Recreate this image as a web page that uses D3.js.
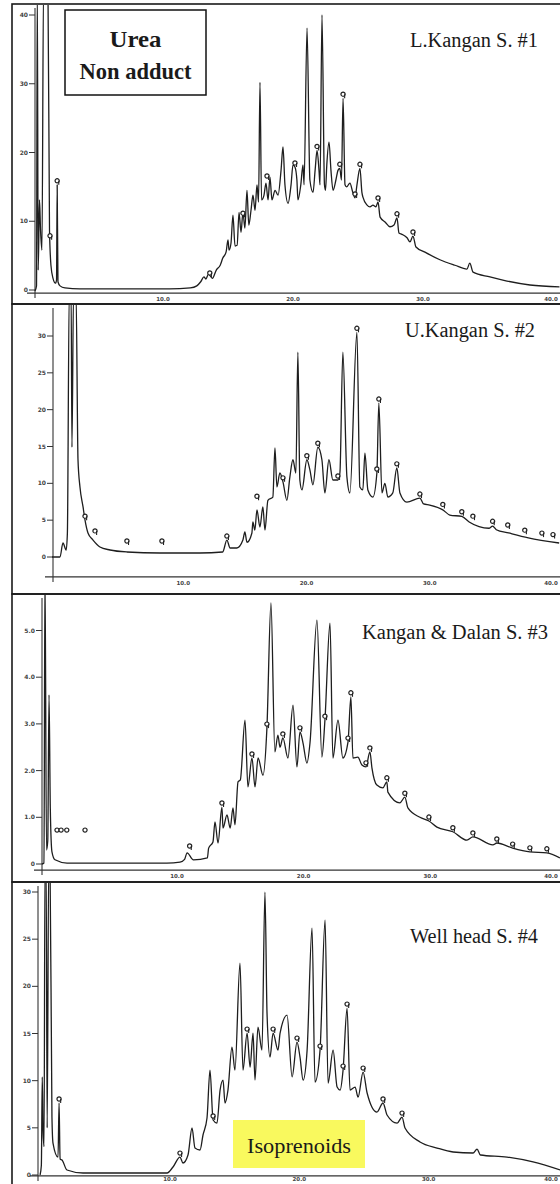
<!DOCTYPE html>
<html>
<head>
<meta charset="utf-8">
<script src="https://cdn.jsdelivr.net/npm/d3@7"></script>
<style>
  body { margin: 0; background: #fff; }
  svg { display: block; }
</style>
</head>
<body>
<svg id="svg"></svg>
<script>
var width = 560;
var height = 1184;

// retention time (min), signal
const trace1 = [[0.15,-0.15],[0.27,0.6],[0.33,44],[0.4,2.9],[0.5,13.1],[0.58,8.7],[0.69,5.8],[0.81,44],[1.0,44],[1.15,44],[1.27,8.7],[1.38,3.6],[1.54,1.7],[1.73,1.0],[1.81,1.45],[1.86,15.3],[1.92,1.2],[2.08,0.6],[2.46,0.3],[3.6,0.15],[6.7,0.15],[10.5,0.15],[12.1,0.3],[12.6,0.6],[12.9,1.2],[13.15,1.9],[13.3,1.6],[13.5,2.3],[13.8,1.7],[14.1,2.9],[14.4,3.6],[14.6,4.65],[14.85,5.5],[15.0,7.3],[15.08,5.8],[15.23,6.8],[15.38,10.9],[15.54,6.4],[15.7,6.5],[15.85,11.3],[16.0,8.4],[16.15,11.3],[16.3,9.0],[16.46,14.5],[16.6,9.45],[16.77,11.6],[16.92,13.8],[17.08,11.6],[17.23,15.3],[17.35,12.8],[17.46,30.2],[17.58,13.1],[17.77,13.8],[17.92,15.55],[18.08,13.1],[18.23,16.4],[18.38,13.1],[18.62,14.5],[18.85,13.8],[19.08,17.4],[19.23,20.8],[19.38,15.3],[19.62,12.6],[19.85,15.3],[20.0,18.2],[20.15,17.9],[20.3,16.0],[20.38,13.1],[20.6,15.3],[20.77,18.2],[20.85,15.3],[21.08,38.1],[21.3,16.0],[21.54,14.2],[21.7,17.4],[21.85,20.3],[22.0,17.4],[22.08,15.3],[22.23,40.0],[22.42,15.3],[22.5,14.5],[22.6,18.2],[22.77,21.5],[22.92,17.4],[23.08,14.5],[23.3,16.0],[23.46,17.4],[23.6,17.7],[23.73,16.0],[23.85,27.9],[24.0,15.3],[24.12,15.0],[24.38,15.55],[24.6,14.2],[24.77,13.4],[24.92,15.3],[25.15,17.7],[25.3,14.2],[25.38,13.5],[25.7,12.35],[25.92,12.1],[26.15,12.35],[26.38,12.1],[26.54,12.8],[26.7,10.6],[27.08,9.9],[27.46,9.2],[27.77,9.45],[28.0,10.5],[28.15,8.3],[28.38,8.1],[28.77,7.6],[29.0,7.0],[29.23,7.85],[29.46,6.25],[30.15,5.5],[31.3,4.4],[32.46,3.6],[33.38,3.05],[33.6,3.9],[33.85,2.6],[35.15,1.9],[36.46,1.3],[38.23,0.73],[40.5,0.44]];
const trace2 = [[-0.65,0],[0,0],[0.24,1.9],[0.5,0.95],[0.6,3.3],[0.75,36],[0.9,36],[0.97,14.9],[1.1,36],[1.3,36],[1.46,13.2],[1.62,9.5],[1.87,6.8],[2.03,5.0],[2.27,3.26],[2.68,2.3],[3.24,1.36],[4.06,0.95],[5.43,0.68],[8.1,0.54],[11.35,0.54],[13.2,0.68],[13.54,2.3],[13.8,1.22],[14.35,1.22],[14.84,2.3],[15.0,3.4],[15.17,2.0],[15.57,3.26],[15.65,4.75],[15.81,3.66],[15.98,6.4],[16.22,4.07],[16.46,6.8],[16.63,3.66],[16.87,7.7],[17.27,8.14],[17.44,14.8],[17.6,9.5],[17.84,11.4],[18.09,10.2],[18.41,7.7],[18.65,10.85],[18.9,13.2],[19.14,11.4],[19.3,27.8],[19.46,10.45],[19.63,9.1],[20.03,13.2],[20.28,11.8],[20.52,9.8],[20.92,14.9],[21.25,13.2],[21.49,8.7],[21.82,13.2],[22.14,10.45],[22.55,10.45],[22.71,11.4],[22.95,27.8],[23.28,10.85],[23.52,8.7],[24.09,30.5],[24.33,9.5],[24.57,9.1],[24.74,14.1],[24.98,9.1],[25.39,8.14],[25.71,11.4],[25.87,20.9],[26.12,8.7],[26.36,10.0],[26.6,8.14],[27.0,8.7],[27.33,12.1],[27.58,8.7],[28.14,7.46],[29.2,8.0],[29.5,7.2],[30.0,7.05],[31.06,6.4],[31.63,5.7],[32.6,5.5],[33.2,4.75],[34.8,3.9],[35.1,4.2],[35.4,3.7],[36.4,3.26],[38.0,2.6],[40.5,1.9]];
const trace3 = [[-0.66,0],[-0.5,0.02],[-0.42,6.3],[-0.3,0.3],[-0.2,0.5],[-0.1,3.62],[0.0,1.2],[0.13,0.26],[0.37,0.09],[1.32,0.02],[9.2,0.02],[10.24,0.04],[10.6,0.1],[10.8,0.24],[11.3,0.09],[12.4,0.13],[12.5,0.34],[12.84,0.47],[13.0,0.9],[13.24,0.45],[13.55,1.22],[13.63,0.77],[13.95,1.05],[14.2,0.77],[14.42,1.2],[14.58,0.84],[14.82,1.76],[15.0,1.8],[15.37,3.08],[15.6,1.65],[15.92,2.27],[16.16,1.65],[16.4,2.27],[16.79,1.9],[17.1,2.91],[17.42,5.59],[17.73,2.4],[17.97,2.76],[18.13,2.5],[18.36,2.7],[18.76,2.27],[19.16,3.4],[19.47,2.08],[19.71,2.83],[19.95,2.59],[20.26,2.16],[20.5,2.59],[21.05,5.22],[21.44,2.29],[21.68,3.08],[22.08,5.16],[22.31,2.27],[22.71,3.08],[23.1,2.27],[23.5,2.61],[23.73,3.58],[23.89,2.27],[24.28,2.29],[24.6,2.12],[24.92,2.08],[25.23,2.4],[25.39,2.06],[25.78,1.69],[26.26,1.63],[26.57,1.76],[26.65,1.54],[27.6,1.31],[27.99,1.43],[28.23,1.2],[29.18,1.0],[29.89,0.92],[30.52,0.79],[31.78,0.69],[32.89,0.51],[33.36,0.58],[34.94,0.41],[35.25,0.45],[36.5,0.34],[37.86,0.26],[39.2,0.24],[40.23,0.13]];
const trace4 = [[-0.05,0],[0.05,1.0],[0.12,10.4],[0.18,4.77],[0.26,3.0],[0.33,33],[0.42,33],[0.5,5.0],[0.62,33],[0.72,33],[0.87,6.14],[0.95,3.39],[1.34,1.9],[1.42,7.63],[1.5,1.7],[1.65,1.59],[2.03,0.53],[3.27,0.21],[9.77,0.21],[10.23,0.85],[10.77,1.9],[11.0,1.27],[11.39,2.12],[11.7,4.98],[11.93,2.86],[12.32,2.65],[12.55,4.24],[12.86,6.04],[13.09,11.12],[13.33,5.83],[13.63,5.5],[13.87,9.0],[14.1,10.06],[14.25,7.63],[14.48,9.0],[14.79,13.56],[15.02,11.12],[15.41,22.46],[15.64,11.12],[15.96,15.04],[16.19,11.44],[16.42,15.04],[16.57,10.06],[16.8,15.68],[17.11,13.24],[17.34,29.98],[17.5,17.16],[17.73,12.5],[17.97,15.04],[18.35,13.24],[18.51,15.04],[19.05,16.95],[19.44,10.4],[19.82,14.09],[20.05,12.5],[20.29,10.06],[20.6,13.24],[20.98,26.17],[21.21,9.85],[21.6,13.24],[21.99,27.01],[22.22,9.75],[22.61,13.24],[22.92,9.32],[23.15,9.0],[23.38,11.12],[23.69,17.69],[23.92,9.0],[24.31,9.32],[24.54,8.26],[24.93,10.91],[25.24,8.69],[26.0,6.67],[26.47,7.63],[26.78,6.36],[27.56,5.5],[27.94,6.14],[28.17,4.98],[29.33,3.5],[30.65,2.86],[31.89,2.44],[33.43,2.33],[33.74,2.75],[34.0,2.12],[36.06,1.9],[38.07,1.38],[40.16,0.53]];

// peak labels (small "9" marks) sitting on top of peaks
const markers1 = [[1.31,7.3],[1.86,15.3],[13.6,1.9],[16.15,10.6],[18.0,16.0],[20.15,17.9],[21.85,20.3],[23.6,17.7],[23.85,27.9],[24.77,13.4],[25.15,17.7],[26.54,12.8],[28.0,10.5],[29.23,7.85]];
const markers2 = [[2.03,5.0],[2.84,3.0],[5.43,1.63],[8.27,1.63],[13.54,2.3],[15.98,7.7],[18.09,10.2],[20.03,13.2],[20.92,14.9],[22.55,10.45],[24.09,30.5],[25.71,11.4],[25.87,20.9],[27.33,12.1],[29.2,8.0],[31.06,6.6],[32.6,5.6],[33.5,5.0],[35.1,4.3],[36.33,3.8],[37.71,3.1],[39.1,2.7],[40.0,2.5]];
const markers3 = [[0.53,0.64],[0.85,0.64],[1.3,0.64],[2.74,0.64],[11.0,0.3],[13.55,1.22],[15.92,2.27],[17.1,2.91],[18.36,2.7],[19.71,2.83],[21.68,3.08],[23.5,2.61],[23.73,3.58],[24.92,2.08],[25.23,2.4],[26.57,1.76],[27.99,1.43],[29.89,0.92],[31.78,0.69],[33.36,0.58],[35.25,0.45],[36.5,0.34],[37.86,0.26],[39.2,0.24]];
const markers4 = [[1.42,7.63],[10.77,1.9],[13.33,5.83],[15.96,15.04],[17.97,15.04],[19.82,14.09],[21.6,13.24],[23.38,11.12],[23.69,17.69],[24.93,10.91],[26.47,7.63],[27.94,6.14]];
const floating3 = 4; // first marks of panel 3 float above the baseline

const yTicks1 = [0,10,20,30,40];
const yTicks2 = [0,5,10,15,20,25,30];
const yTicks3 = [0,1,2,3,4,5];
const yTicks4 = [0,5,10,15,20,25,30];
const xTicks = [10,20,30,40];

const titles = ["L.Kangan S. #1","U.Kangan S. #2","Kangan & Dalan S. #3","Well head S. #4"];

// layout of the four stacked panels
const panels = [
  {trace: trace1, marks: markers1, yTicks: yTicks1, fmt: d => d, title: titles[0],
   top: 4, bottom: 304, axisX: 35, xr: [33,553], yd: [0,40], yr: [290,15], xAxisV: -0.44, lab: 8,
   tx: 410, ty: 47, tw: 128},
  {trace: trace2, marks: markers2, yTicks: yTicks2, fmt: d => d, title: titles[1],
   top: 304, bottom: 594, axisX: 53, xr: [60,553], yd: [0,30], yr: [557,336], xAxisV: -2.7, lab: 8,
   tx: 405, ty: 337, tw: 130},
  {trace: trace3, marks: markers3, yTicks: yTicks3, fmt: d => d === 0 ? "0" : d.toFixed(1), title: titles[2],
   top: 594, bottom: 882, axisX: 42, xr: [50.3,557], yd: [0,5], yr: [864,630.5], xAxisV: -0.13, lab: 8,
   tx: 362, ty: 639, tw: 186},
  {trace: trace4, marks: markers4, yTicks: yTicks4, fmt: d => d, title: titles[3],
   top: 882, bottom: 1192, axisX: 38, xr: [40.7,558], yd: [0,30], yr: [1175,892], xAxisV: -0.1, lab: 5.5,
   tx: 410, ty: 943, tw: 128}
];

const svg = d3.select("#svg")
    .attr("width", width)
    .attr("height", height)
    .attr("viewBox", [0, 0, width, height]);

svg.append("rect").attr("width", width).attr("height", height).attr("fill", "#fff");

panels.forEach((p, i) => {
  const x = d3.scaleLinear().domain([0, 40]).range(p.xr);
  const y = d3.scaleLinear().domain(p.yd).range(p.yr);
  const g = svg.append("g");

  g.append("clipPath").attr("id", "clip" + i)
    .append("rect").attr("x", 13).attr("y", p.top + 1)
      .attr("width", width).attr("height", p.bottom - p.top - 2);

  // panel frame
  g.append("rect")
      .attr("x", 12).attr("y", p.top)
      .attr("width", 560).attr("height", p.bottom - p.top)
      .attr("fill", "none").attr("stroke", "#1a1a1a").attr("stroke-width", 1.6);

  const axisY = y(p.xAxisV);

  // y axis line + ticks
  g.append("line")
      .attr("x1", p.axisX).attr("x2", p.axisX)
      .attr("y1", p.top + 4).attr("y2", Math.min(axisY + 5, p.bottom - 2))
      .attr("stroke", "#333").attr("stroke-width", 1.1);
  const yt = g.append("g").selectAll("g").data(p.yTicks).join("g")
      .attr("transform", d => `translate(0,${y(d)})`);
  yt.append("line").attr("x1", p.axisX - 6).attr("x2", p.axisX)
      .attr("stroke", "#333").attr("stroke-width", 1);
  yt.append("text").attr("x", p.axisX - 7).attr("dy", "0.35em")
      .attr("text-anchor", "end")
      .attr("font-family", "DejaVu Sans").attr("font-size", 6).attr("font-weight", "bold")
      .attr("fill", "#444")
      .text(p.fmt);

  // x axis line + labels
  g.append("line")
      .attr("x1", p.axisX - 8).attr("x2", width)
      .attr("y1", axisY).attr("y2", axisY)
      .attr("stroke", "#333").attr("stroke-width", 1.2);
  g.append("g").selectAll("text").data(xTicks).join("text")
      .attr("x", d => Math.min(x(d), width - 9))
      .attr("y", axisY + p.lab)
      .attr("text-anchor", "middle")
      .attr("font-family", "DejaVu Sans").attr("font-size", 5.5).attr("font-weight", "bold")
      .attr("fill", "#444")
      .text(d => d.toFixed(1));

  // chromatogram trace
  const line = d3.line()
      .x(d => x(d[0]))
      .y(d => y(d[1]))
      .curve(d3.curveMonotoneX);
  g.append("path")
      .datum(p.trace)
      .attr("clip-path", `url(#clip${i})`)
      .attr("fill", "none")
      .attr("stroke", "#1e1e1e")
      .attr("stroke-width", 1.3)
      .attr("stroke-linejoin", "round")
      .attr("d", line);

  // peak marks
  const mk = g.append("g").attr("clip-path", `url(#clip${i})`)
    .selectAll("g").data(p.marks).join("g")
      .attr("transform", d => `translate(${x(d[0])},${y(d[1]) - 4})`);
  mk.append("circle").attr("r", 2.1)
      .attr("fill", "#fff").attr("stroke", "#222").attr("stroke-width", 1.2);
  mk.filter((d, j) => !(i === 2 && j < floating3))
    .append("line").attr("x1", 1.6).attr("x2", 1.6).attr("y1", 0).attr("y2", 4)
      .attr("stroke", "#222").attr("stroke-width", 1.1);

  // sample title
  g.append("text")
      .attr("x", p.tx).attr("y", p.ty)
      .attr("font-family", "Liberation Serif").attr("font-size", 20)
      .attr("fill", "#1a1a1a")
      .attr("textLength", p.tw).attr("lengthAdjust", "spacingAndGlyphs")
      .text(p.title);
});

// "Urea Non adduct" box in the first panel
svg.append("rect")
    .attr("x", 65).attr("y", 10).attr("width", 141).attr("height", 85)
    .attr("fill", "#fff").attr("stroke", "#111").attr("stroke-width", 1.5);
svg.append("text").attr("x", 135.5).attr("y", 47).attr("text-anchor", "middle")
    .attr("font-family", "Liberation Serif").attr("font-weight", "bold").attr("font-size", 23)
    .attr("fill", "#1a1a1a").attr("textLength", 52).attr("lengthAdjust", "spacingAndGlyphs")
    .text("Urea");
svg.append("text").attr("x", 135.5).attr("y", 79).attr("text-anchor", "middle")
    .attr("font-family", "Liberation Serif").attr("font-weight", "bold").attr("font-size", 23)
    .attr("fill", "#1a1a1a").attr("textLength", 112).attr("lengthAdjust", "spacingAndGlyphs")
    .text("Non adduct");

// isoprenoids label in the last panel
svg.append("rect")
    .attr("x", 233).attr("y", 1120).attr("width", 132).attr("height", 48)
    .attr("fill", "#f9f95e");
svg.append("text").attr("x", 299).attr("y", 1153).attr("text-anchor", "middle")
    .attr("font-family", "Liberation Serif").attr("font-size", 21)
    .attr("fill", "#1a1a1a").attr("textLength", 104).attr("lengthAdjust", "spacingAndGlyphs")
    .text("Isoprenoids");
</script>
</body>
</html>
